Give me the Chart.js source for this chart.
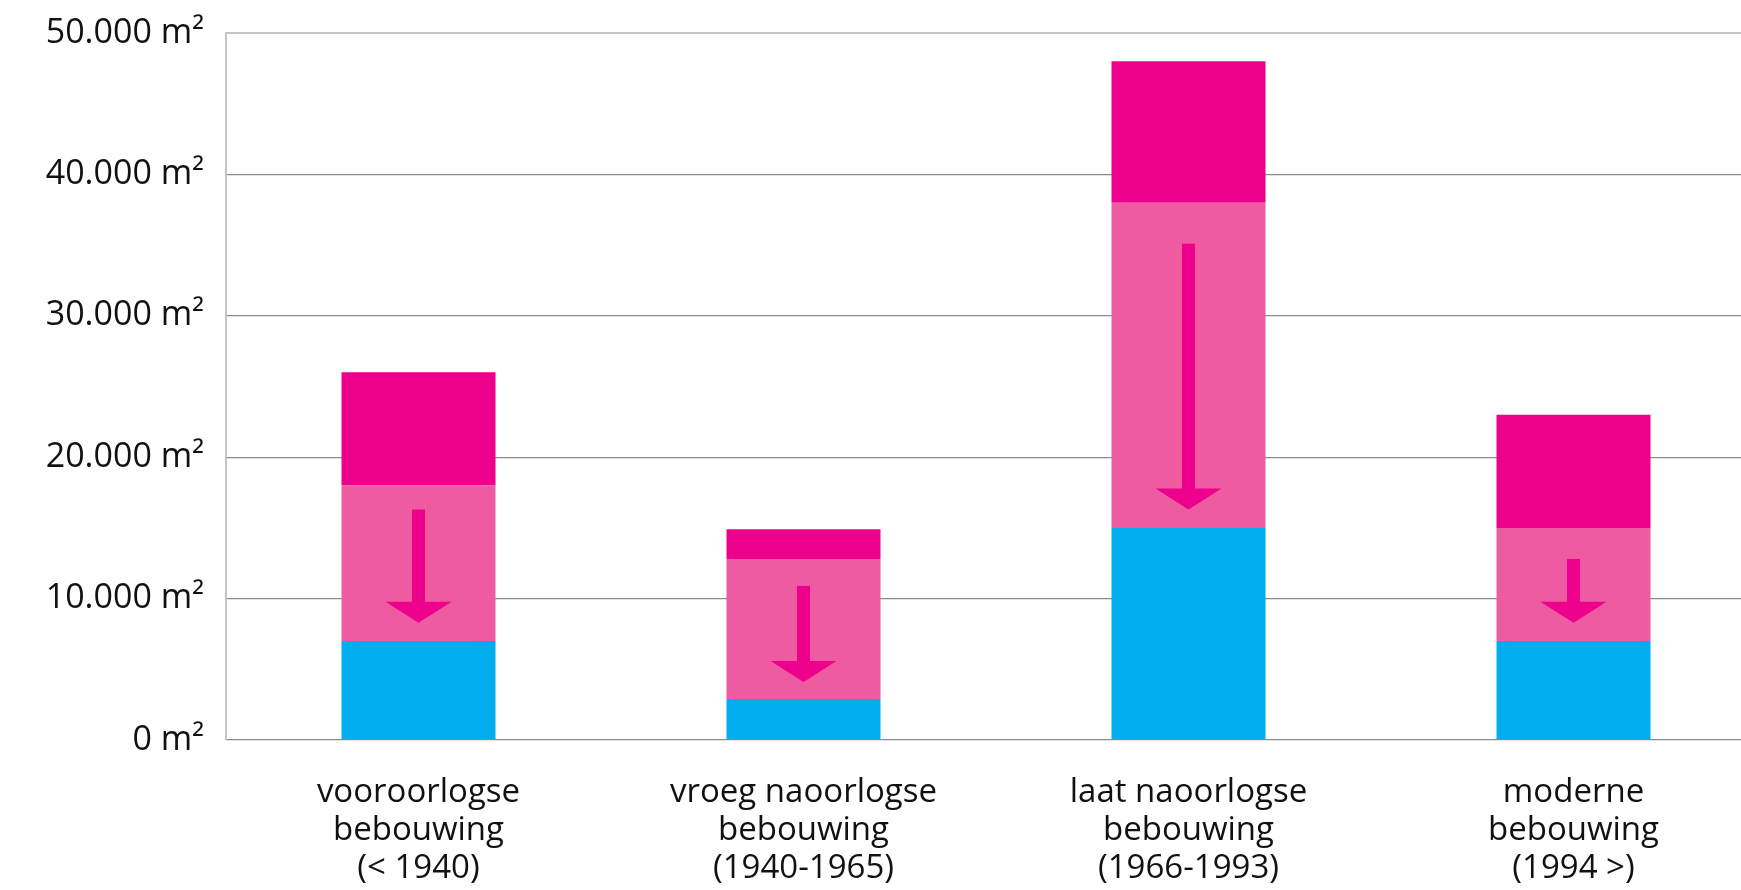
<!DOCTYPE html>
<html>
<head>
<meta charset="utf-8">
<title>Bebouwing</title>
<script src="https://cdn.jsdelivr.net/npm/chart.js@4.4.1/dist/chart.umd.min.js"></script>
<style>
    html, body { margin: 0; padding: 0; background: #fff; overflow: hidden; }
    #wrap { width: 1766px; height: 890px; }
</style>
</head>
<body>
<div id="wrap"><canvas id="barCanvas" width="1766" height="890"></canvas></div>
<script>
    // categorieën (meerdere regels per label)
    var categories = [
        ["vooroorlogse", "bebouwing", "(< 1940)"],
        ["vroeg naoorlogse", "bebouwing", "(1940-1965)"],
        ["laat naoorlogse", "bebouwing", "(1966-1993)"],
        ["moderne", "bebouwing", "(1994 >)"]
    ];

    // gestapelde waarden in m²
    var baseValues = [7000, 2900, 15000, 7000];     // blauw
    var middleValues = [11000, 9900, 23000, 8000];  // lichtroze
    var topValues = [8000, 2100, 10000, 8000];      // donkerroze

    // pijlen: van / tot (m²)
    var arrowFrom = [16300, 10900, 35100, 12800];
    var arrowTo = [8300, 4100, 16300, 8300];

    var yTicks = [0, 10000, 20000, 30000, 40000, 50000];

    var colors = {
        blue: '#00aeef',
        lightPink: '#ef5ba1',
        pink: '#ec008c',
        grid: '#8c8c8c',
        lightGrid: '#c4c4c4',
        text: '#111111'
    };

    var fontFamily = '"Open Sans", Lato, sans-serif';

    // pijlen tekenen in het middelste segment
    var arrowPlugin = {
        id: 'arrows',
        afterDatasetsDraw: function (chart) {
            var ctx = chart.ctx;
            var meta = chart.getDatasetMeta(1);
            var y = chart.scales.y;
            ctx.save();
            ctx.fillStyle = colors.pink;
            meta.data.forEach(function (bar, i) {
                var x = bar.x;
                var y1 = y.getPixelForValue(arrowFrom[i]);
                var y2 = y.getPixelForValue(arrowTo[i]);
                var headH = 21, headW = 33, shaft = 6.5;
                ctx.fillRect(x - shaft, y1, shaft * 2, (y2 - headH) - y1 + 1);
                ctx.beginPath();
                ctx.moveTo(x - headW, y2 - headH);
                ctx.lineTo(x + headW, y2 - headH);
                ctx.lineTo(x, y2);
                ctx.closePath();
                ctx.fill();
            });
            ctx.restore();
        }
    };

    window.onload = function () {
        var ctx = document.getElementById("barCanvas").getContext("2d");
        window.myBar = new Chart(ctx, {
            type: 'bar',
            data: {
                labels: categories,
                datasets: [{
                    label: 'basis',
                    data: baseValues,
                    backgroundColor: colors.blue
                }, {
                    label: 'midden',
                    data: middleValues,
                    backgroundColor: colors.lightPink
                }, {
                    label: 'boven',
                    data: topValues,
                    backgroundColor: colors.pink
                }]
            },
            options: {
                responsive: false,
                animation: false,
                devicePixelRatio: 1,
                layout: { padding: { top: 33, left: 0, right: 0, bottom: 0 } },
                plugins: {
                    legend: { display: false },
                    tooltip: { enabled: false }
                },
                datasets: {
                    bar: { categoryPercentage: 1, barPercentage: 0.4, borderWidth: 0 }
                },
                scales: {
                    x: {
                        stacked: true,
                        grid: { display: false },
                        border: { display: false },
                        ticks: {
                            color: colors.text,
                            padding: 26,
                            font: { family: fontFamily, size: 33, lineHeight: 1.15 },
                            maxRotation: 0
                        },
                        afterFit: function (scale) { scale.height = 150; }
                    },
                    y: {
                        stacked: true,
                        min: 0,
                        max: 50000,
                        afterBuildTicks: function (scale) {
                            scale.ticks = yTicks.map(function (v) { return { value: v }; });
                        },
                        afterFit: function (scale) {
                            scale.width = 226;
                            scale.paddingTop = 0;
                            scale.paddingBottom = 0;
                        },
                        grid: {
                            drawTicks: false,
                            color: function (c) {
                                return c.tick && c.tick.value === 50000 ? colors.lightGrid : colors.grid;
                            },
                            lineWidth: function (c) {
                                return c.tick && c.tick.value === 50000 ? 2 : 1.3;
                            }
                        },
                        border: { display: true, color: colors.lightGrid, width: 2 },
                        ticks: {
                            color: colors.text,
                            padding: 22,
                            font: { family: fontFamily, size: 34 },
                            callback: function (v) {
                                return (v === 0 ? '0' : v.toLocaleString('nl-NL')) + ' m²';
                            }
                        }
                    }
                }
            },
            plugins: [arrowPlugin]
        });
    };
</script>
</body>
</html>
